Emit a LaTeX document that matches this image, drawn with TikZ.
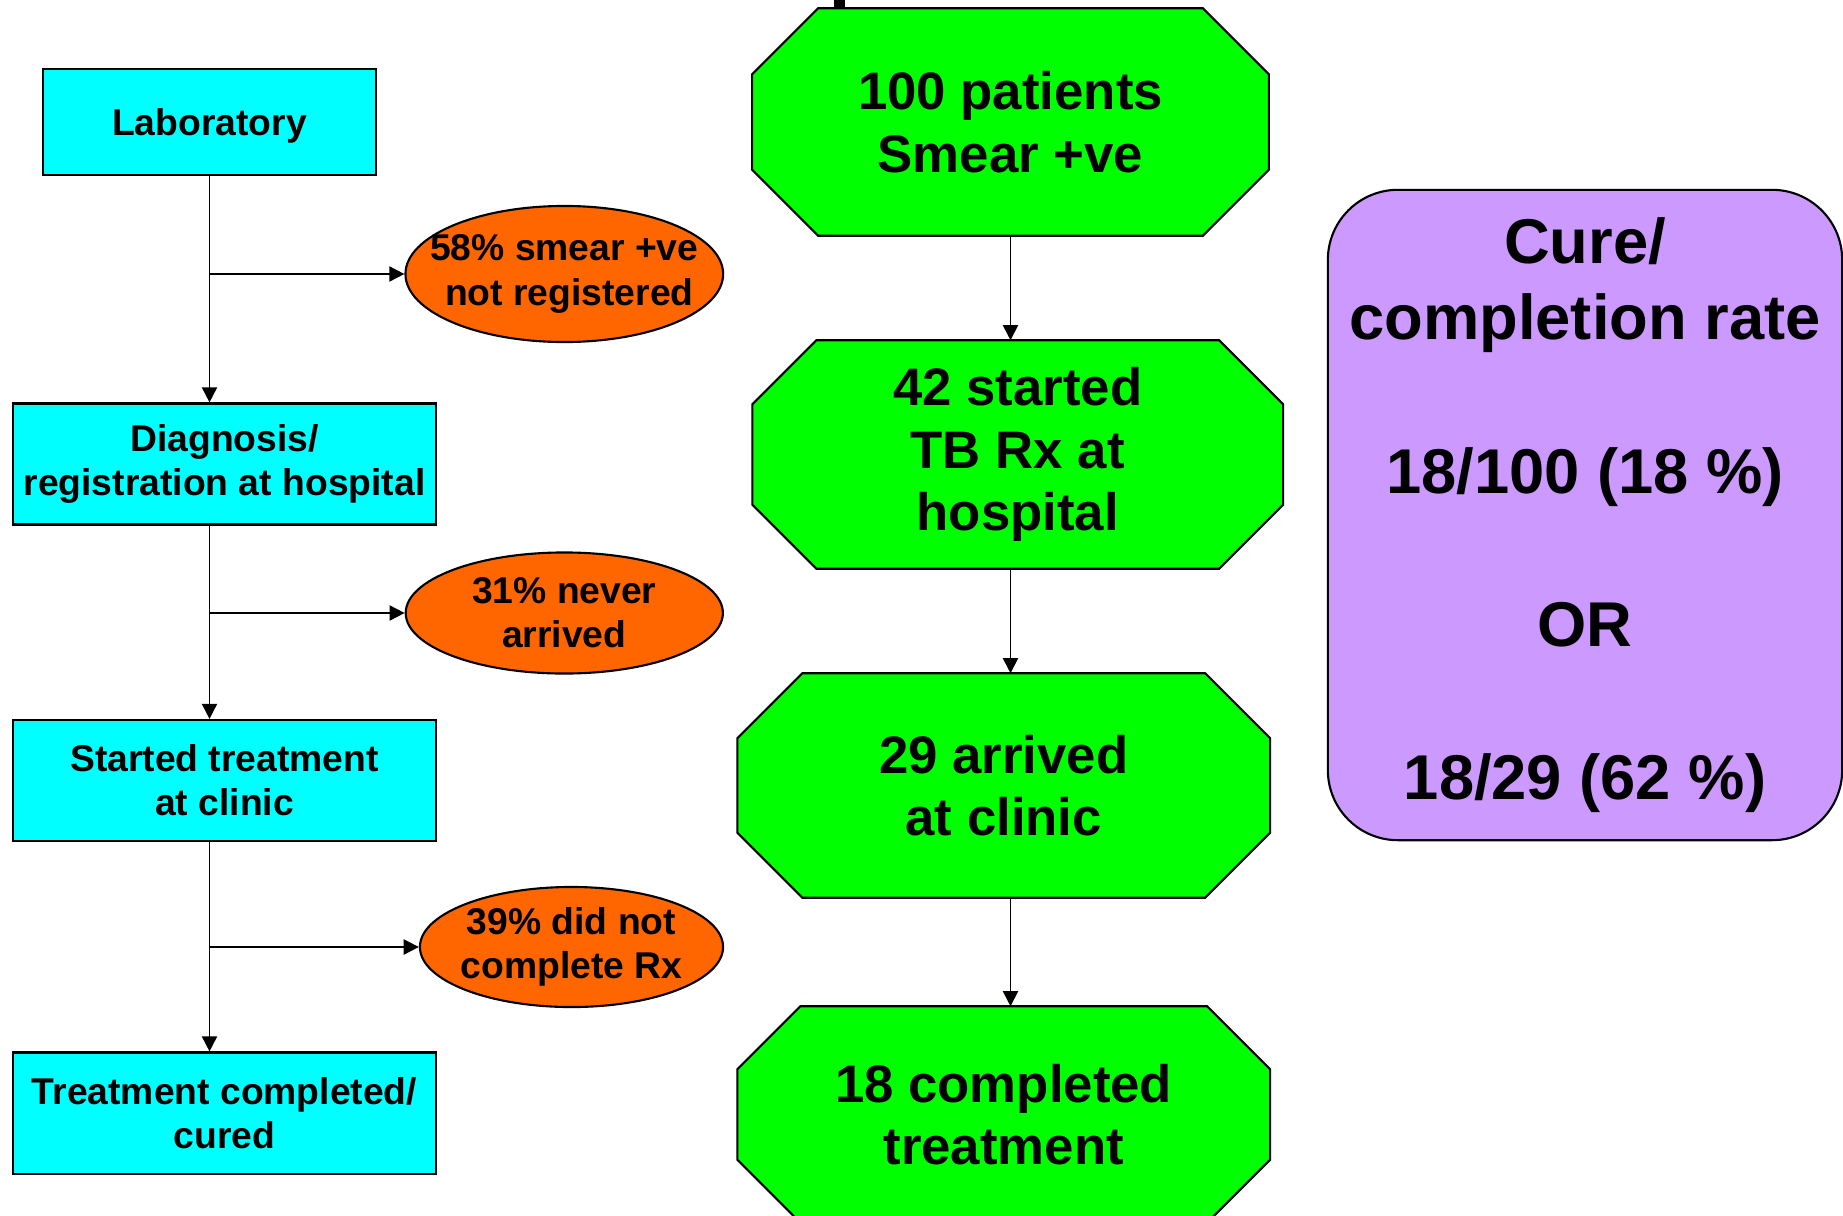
\documentclass[tikz,border=0pt]{standalone}
\usepackage{fontspec}
\setmainfont{Liberation Sans}
\usetikzlibrary{
    shapes.geometric,
    arrows.meta,
    calc,
    backgrounds
}

\definecolor{labcyan}{RGB}{0,255,255}
\definecolor{octgreen}{RGB}{0,255,0}
\definecolor{lossorange}{RGB}{255,102,0}
\definecolor{ratepurple}{RGB}{204,153,255}

% green octagon round an undrawn node: name, corner cut
\newcommand{\octoutline}[2]{%
    \filldraw[fill=octgreen, draw=black, line width=0.6pt]
        ($(#1.north west)+(#2,0)$) -- ($(#1.north east)+(-#2,0)$)
        -- ($(#1.north east)+(0,#2)$) -- ($(#1.south east)+(0,-#2)$)
        -- ($(#1.south east)+(-#2,0)$) -- ($(#1.south west)+(#2,0)$)
        -- ($(#1.south west)+(0,-#2)$) -- ($(#1.north west)+(0,#2)$) -- cycle;
}

\begin{document}
\begin{tikzpicture}[
                x=0.01cm, y=-0.01cm,
                block/.style={draw, line width=0.6pt, fill=labcyan, minimum width=4.23cm, minimum height=1.21cm, inner sep=0pt, align=center, font=\bfseries\fontsize{10.6}{12.6}\selectfont},
                loss/.style={ellipse, draw, line width=0.6pt, fill=lossorange, inner sep=0pt},
                losstext/.style={inner sep=0pt, align=center, font=\bfseries\fontsize{10.6}{12.6}\selectfont},
                octo/.style={inner sep=0pt, align=center, font=\bfseries\fontsize{15}{17.8}\selectfont},
                flow/.style={-{Triangle[length=4.3pt, width=4.3pt]}, line width=0.5pt}
            ]
                \useasboundingbox (0,0) rectangle (1843,1215);

                % Left column
                \node[block, minimum width=3.33cm, minimum height=1.06cm, text depth=0pt] (lab) at (209.5, 122) {Laboratory};
                \node[block] (diag) at (224.5, 464) {Diagnosis/\\registration at hospital};
                \node[block] (clinic) at (224.5, 780.5) {Started treatment\\at clinic};
                \node[block] (cured) at (224.5, 1113) {Treatment completed/\\cured};

                \node[loss, minimum width=3.175cm, minimum height=1.36cm] (loss1) at (564.3, 274) {};
                \node[loss, minimum width=3.17cm, minimum height=1.21cm] (loss2) at (564.3, 613) {};
                \node[loss, minimum width=3.03cm, minimum height=1.2cm] (loss3) at (571.5, 947) {};
                \node[losstext] (loss1txt) at (loss1) {58\% smear +ve\\ \ not registered};
                \node[losstext] (loss2txt) at (loss2) {31\% never\\arrived};
                \node[losstext] (loss3txt) at (loss3) {39\% did not\\complete Rx};

                \draw[flow] (lab.south) -- (lab.south |- diag.north);
                \draw[flow] (lab.south |- diag.south) -- (lab.south |- clinic.north);
                \draw[flow] (lab.south |- clinic.south) -- (lab.south |- cured.north);
                \draw[flow] (lab.south |- loss1.west) -- (loss1.west);
                \draw[flow] (lab.south |- loss2.west) -- (loss2.west);
                \draw[flow] (lab.south |- loss3.west) -- (loss3.west);

                % Middle column
                \node[octo, minimum width=5.15cm, minimum height=2.26cm] (pat) at (1010.5, 122) {100 patients\\Smear +ve};
                \node[octo, minimum width=5.29cm, minimum height=2.27cm] (hosp) at (1017.7, 454.5) {42 started\\TB Rx at\\hospital};
                \node[octo, minimum width=5.31cm, minimum height=2.23cm] (arr) at (1003.7, 785.5) {29 arrived\\at clinic};
                \node[octo, minimum width=5.31cm, minimum height=2.15cm] (done) at (1003.7, 1114.5) {18 completed\\treatment};

                \begin{scope}[on background layer]
                    \octoutline{pat}{66}
                    \octoutline{hosp}{64}
                    \octoutline{arr}{65}
                    \octoutline{done}{63}
                \end{scope}

                \draw[flow] (pat.south) -- (pat.south |- hosp.north);
                \draw[flow] (pat.south |- hosp.south) -- (pat.south |- arr.north);
                \draw[flow] (pat.south |- arr.south) -- (pat.south |- done.north);

                % Rates
                \node[draw, line width=0.6pt, fill=ratepurple, rounded corners=0.7cm, minimum width=5.14cm, minimum height=6.5cm, inner sep=0pt, align=center, font=\bfseries\fontsize{18}{21.8}\selectfont] (rate) at (1585, 515)
                    {Cure/\\completion rate\\[21.8pt]18/100 (18 \%)\\[21.8pt]OR\\[21.8pt]18/29 (62 \%)};

                % cut-off title glyph
                \fill (834,0) rectangle (845,8);
            \end{tikzpicture}
\end{document}
